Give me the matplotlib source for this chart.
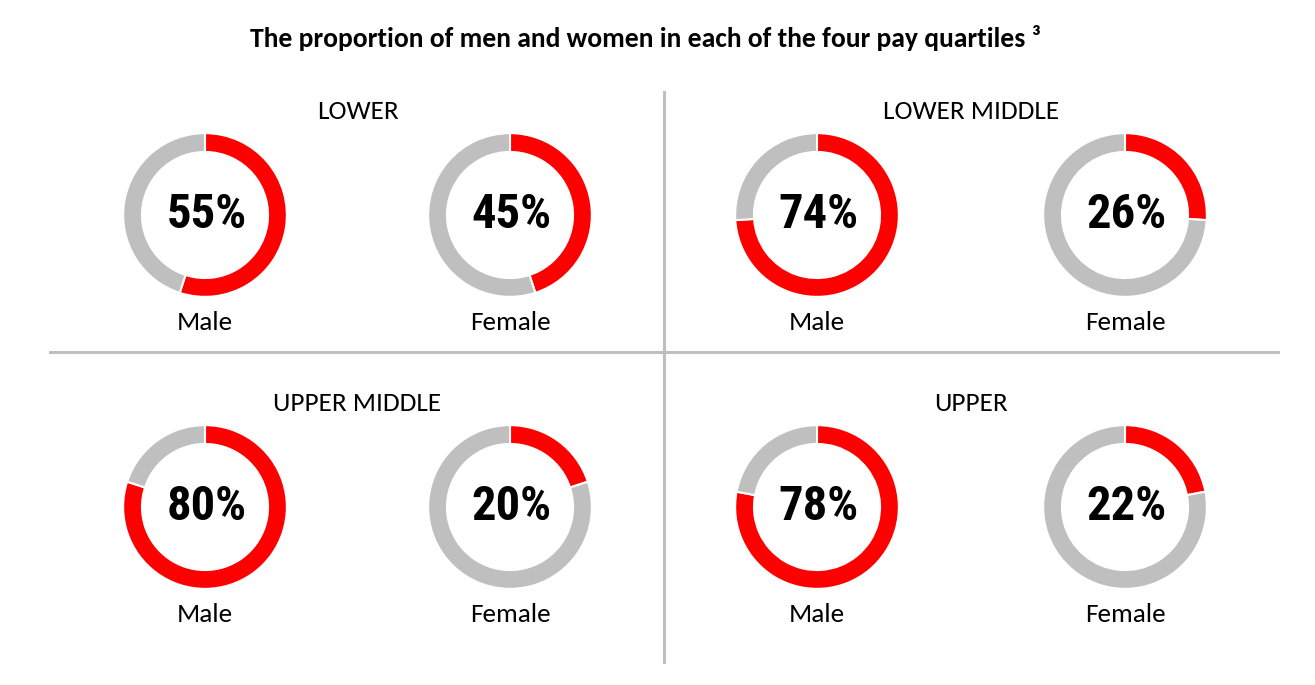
import matplotlib
matplotlib.use('Agg')
import matplotlib.pyplot as plt

# data
quartiles = ['LOWER', 'LOWER MIDDLE', 'UPPER MIDDLE', 'UPPER']
male_pct = [55, 74, 80, 78]
female_pct = [45, 26, 20, 22]
genders = ['Male', 'Female']

RED = '#ff0000'
GREY = '#bfbfbf'
W, H = 1315, 685
PCT_FONT = ['Roboto Condensed', 'Archivo Narrow', 'Barlow Condensed', 'DejaVu Sans']

plt.rcParams['font.family'] = ['Carlito', 'Lato', 'DejaVu Sans']

fig = plt.figure(figsize=(W / 100, H / 100), dpi=100)

# background axes in pixel coordinates for text and divider lines
bg = fig.add_axes([0, 0, 1, 1])
bg.set_xlim(0, W)
bg.set_ylim(H, 0)
bg.axis('off')

bg.text(645, 38, 'The proportion of men and women in each of the four pay quartiles ³',
        ha='center', va='center', fontsize=19.9, fontweight='bold')

# divider lines
bg.plot([664, 664], [92, 662], color=GREY, lw=2.2)
bg.plot([50, 1278], [352, 352], color=GREY, lw=2.2)

# panel layout (centres of each donut pair)
col_x = [(205, 510), (817, 1125)]
row_y = [215, 507]
radius = 83.5

for i, name in enumerate(quartiles):
    row, col = divmod(i, 2)
    cy = row_y[row]
    xs = col_x[col]
    bg.text((xs[0] + xs[1]) / 2, cy - 104, name,
            ha='center', va='center', fontsize=19.5)
    for j, (cx, pct) in enumerate(zip(xs, [male_pct[i], female_pct[i]])):
        ax = fig.add_axes([(cx - radius) / W, (H - cy - radius) / H,
                           2 * radius / W, 2 * radius / H])
        ax.pie([pct, 100 - pct], colors=[RED, GREY], startangle=90,
               counterclock=False, radius=1,
               wedgeprops=dict(width=0.23, edgecolor='white', linewidth=1.5))
        ax.set_xlim(-1.02, 1.02)
        ax.set_ylim(-1.02, 1.02)
        ax.set_aspect('equal')
        ax.axis('off')
        ax.text(0.02, 0, f'{pct}%', ha='center', va='center', fontsize=35,
                fontweight='bold', family=PCT_FONT)
        bg.text(cx, cy + 107, genders[j], ha='center', va='center', fontsize=19.5)

fig.savefig('out.png', dpi=100)
